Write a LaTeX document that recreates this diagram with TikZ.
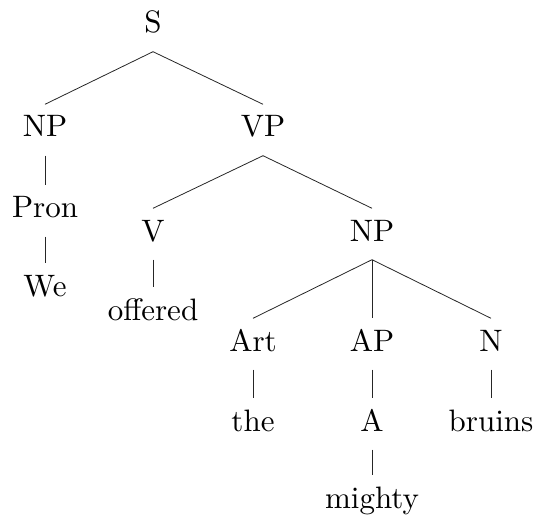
\documentclass[tikz,border=0pt]{standalone}
\usepackage{fontspec}
\setmainfont{lmroman10-regular.otf}
\begin{document}
\begin{tikzpicture}[x=1pt,y=-1pt,
  tn/.style={anchor=base,font=\fontsize{31}{37}\selectfont,inner xsep=2pt,inner ysep=12.5pt,text height=20pt,text depth=6pt},
  edge/.style={line width=0.8pt,draw=black!85}]
\useasboundingbox (0,0) rectangle (537,518);
\node[tn] (S) at (153,33) {S};
\node[tn] (NP1) at (45,137) {NP};
\node[tn] (VP) at (263,137) {VP};
\node[tn] (Pron) at (45,218) {Pron};
\node[tn] (We) at (45,296) {We};
\node[tn] (V) at (153,241) {V};
\node[tn] (off) at (153,320) {offered};
\node[tn] (NP2) at (372,241) {NP};
\node[tn] (Art) at (253,351) {Art};
\node[tn] (AP) at (372,351) {AP};
\node[tn] (N) at (491,351) {N};
\node[tn] (the) at (253,431) {the};
\node[tn] (A) at (372,431) {A};
\node[tn] (bru) at (491,431) {bruins};
\node[tn] (mig) at (372,508) {mighty};
\draw[edge] (S.south) -- (NP1.north);
\draw[edge] (S.south) -- (VP.north);
\draw[edge] (NP1.south) -- (Pron.north);
\draw[edge] (Pron.south) -- (We.north);
\draw[edge] (VP.south) -- (V.north);
\draw[edge] (VP.south) -- (NP2.north);
\draw[edge] (V.south) -- (off.north);
\draw[edge] (NP2.south) -- (Art.north);
\draw[edge] (NP2.south) -- (AP.north);
\draw[edge] (NP2.south) -- (N.north);
\draw[edge] (Art.south) -- (the.north);
\draw[edge] (AP.south) -- (A.north);
\draw[edge] (A.south) -- (mig.north);
\draw[edge] (N.south) -- (bru.north);
\end{tikzpicture}
\end{document}
